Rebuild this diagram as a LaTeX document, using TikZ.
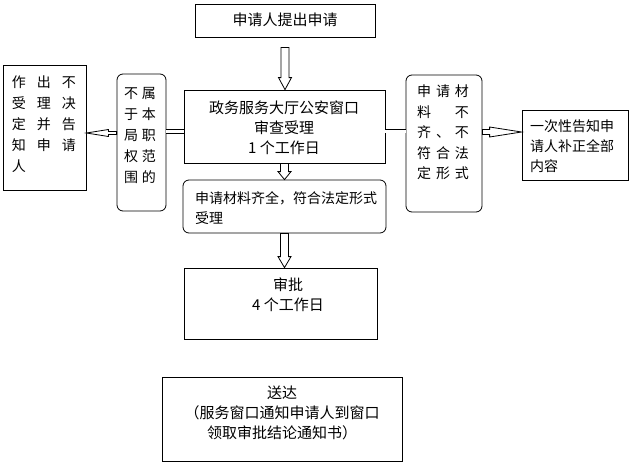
\documentclass[tikz,border=0pt]{standalone}
\usepackage{fontspec}
\setmainfont{Noto Sans CJK SC}
\usetikzlibrary{calc}
\tikzset{
  box/.style={draw, line width=0.8pt, inner sep=0pt, fill=white},
  rbox/.style={box, rounded corners=6pt},
  txt/.style={inner sep=0pt, align=center, font=\fontsize{14}{20}\selectfont},
  bigtxt/.style={txt, font=\fontsize{15}{20}\selectfont},
  arr/.style={draw, line width=0.8pt, fill=white, line join=miter},
  dbl/.style={draw, line width=0.8pt, double, double distance=3pt},
}
\newcommand\boxat[6]{\node[#2, minimum width={(#5-#3)*1pt}, minimum height={(#6-#4)*1pt}] (#1) at ({(#3+#5)/2},{(#4+#6)/2}) {};}
\newcommand\varrow[3]{\path[arr] let \p1=(#1), \p2=(#2) in
  (\x1-4pt,\y1) -- (\x1+4pt,\y1) -- (\x1+4pt,\y2+#3pt) -- (\x1+6.5pt,\y2+#3pt) -- (\x1,\y2)
  -- (\x1-6.5pt,\y2+#3pt) -- (\x1-4pt,\y2+#3pt) -- cycle;}
\newcommand\larrow[2]{\path[arr] let \p1=(#1), \p2=(#2) in
  (\x1,\y1+1.5pt) -- (\x2+22pt,\y1+1.5pt) -- (\x2+22pt,\y1+3.5pt) -- (\x2,\y1)
  -- (\x2+22pt,\y1-3.5pt) -- (\x2+22pt,\y1-1.5pt) -- (\x1,\y1-1.5pt) -- cycle;}
\newcommand\rarrow[2]{\path[arr] let \p1=(#1), \p2=(#2) in
  (\x1,\y1+2.5pt) -- (\x2-32pt,\y1+2.5pt) -- (\x2-32pt,\y1+5pt) -- (\x2,\y1)
  -- (\x2-32pt,\y1-5pt) -- (\x2-32pt,\y1-2.5pt) -- (\x1,\y1-2.5pt) -- cycle;}
\newcommand\cb[2]{\makebox[#1pt]{#2}}
\begin{document}
\begin{tikzpicture}[x=1pt, y=-1pt]
\useasboundingbox (0,0) rectangle (630,464);
% boxes
\boxat{top}{box}{195}{4}{375}{37}
\boxat{main}{box}{184}{90}{385}{163}
\boxat{ok}{rbox}{183}{180}{386}{233}
\boxat{sp}{box}{184}{268}{377}{339}
\boxat{sd}{box}{162}{377}{402}{461}
\boxat{lb}{box}{3}{65}{86}{190}
\boxat{bs}{rbox}{117}{74}{166}{211}
\boxat{rr}{rbox}{406}{75}{482}{212}
\boxat{rb}{box}{522}{110}{628}{180}
% texts
\node[bigtxt] (topT) at (285,20) {申请人提出申请};
\node[bigtxt] (mainT) at (284,128) {政务服务大厅公安窗口\\审查受理\\1 个工作日};
\node[txt, anchor=west, align=left] (okT) at (195,208) {申请材料齐全，符合法定形式\\受理};
\node[bigtxt] (spT) at (288,295) {审批\\4 个工作日};
\node[bigtxt] (sdT) at (282,413) {送达\\（服务窗口通知申请人到窗口\\领取审批结论通知书）};
\node[txt, anchor=west, align=left] (rbT) at (530,146) {一次性告知申\\请人补正全部\\内容};
\node[txt, font=\fontsize{14}{21}\selectfont] (lbT) at (44,124.5)
  {\cb{25}{作}\cb{25}{出}\cb{25}{不}\\\cb{25}{受}\cb{25}{理}\cb{25}{决}\\\cb{25}{定}\cb{25}{并}\cb{25}{告}\\\cb{25}{知}\cb{25}{申}\cb{25}{请}\\\cb{25}{人}\cb{25}{}\cb{25}{}};
\node[txt, font=\fontsize{14}{21}\selectfont] (bsT) at (140,135.5)
  {\cb{18}{不}\cb{18}{属}\\\cb{18}{于}\cb{18}{本}\\\cb{18}{局}\cb{18}{职}\\\cb{18}{权}\cb{18}{范}\\\cb{18}{围}\cb{18}{的}};
\node[txt, font=\fontsize{14}{20.5}\selectfont] (rrT) at (443,132.5)
  {\cb{19}{申}\cb{19}{请}\cb{19}{材}\\\cb{19}{料}\cb{19}{}\cb{19}{不}\\\cb{19}{齐}\cb{19}{、}\cb{19}{不}\\\cb{19}{符}\cb{19}{合}\cb{19}{法}\\\cb{19}{定}\cb{19}{形}\cb{19}{式}};
% connectors
\coordinate (a1) at ($(top.south)+(0,10)$);
\varrow{a1}{main.north}{12}
\varrow{main.south}{ok.north}{8}
\varrow{ok.south}{sp.north}{11}
\coordinate (ml) at ($(main.west)+(0,5)$);
\draw[dbl] (ml) -- (ml -| bs.east);
\coordinate (mr) at ($(main.east)+(0,4.5)$);
\draw[dbl] (mr) -- (mr -| rr.west);
\coordinate (la) at ($(bs.west)+(0,-9.5)$);
\larrow{la}{lb.east}
\coordinate (ra) at ($(rr.east)+(0,-11.5)$);
\rarrow{ra}{rb.west}
\end{tikzpicture}
\end{document}
